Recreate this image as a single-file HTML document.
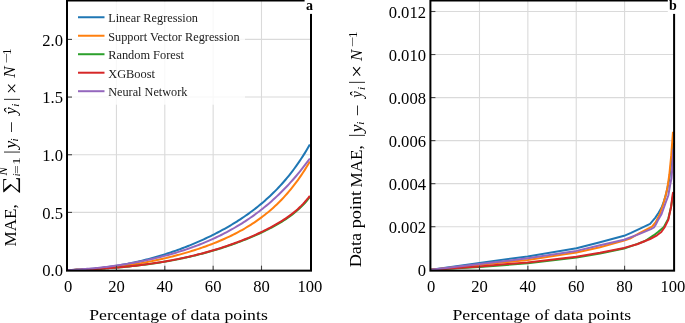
<!DOCTYPE html>
<html><head><meta charset="utf-8"><style>
html,body{margin:0;padding:0;background:#fff;}
body{width:685px;height:323px;overflow:hidden;}
svg{display:block;will-change:transform;}
text{font-family:"Liberation Serif",serif;fill:#000;}
.t{font-size:17px;}
.lg{font-size:13.2px;fill:#1a1a1a;}
.xl{font-size:15.6px;}
.pl{font-size:14px;font-weight:bold;}
</style></head><body>
<svg width="685" height="323" viewBox="0 0 685 323">
<rect width="685" height="323" fill="#fff"/>
<line x1="116.45" y1="0.5" x2="116.45" y2="270.65" stroke="#dadada" stroke-width="1.1"/>
<line x1="164.80" y1="0.5" x2="164.80" y2="270.65" stroke="#dadada" stroke-width="1.1"/>
<line x1="213.15" y1="0.5" x2="213.15" y2="270.65" stroke="#dadada" stroke-width="1.1"/>
<line x1="261.50" y1="0.5" x2="261.50" y2="270.65" stroke="#dadada" stroke-width="1.1"/>
<line x1="67.0" y1="212.41" x2="311.0" y2="212.41" stroke="#dadada" stroke-width="1.1"/>
<line x1="67.0" y1="154.74" x2="311.0" y2="154.74" stroke="#dadada" stroke-width="1.1"/>
<line x1="67.0" y1="97.07" x2="311.0" y2="97.07" stroke="#dadada" stroke-width="1.1"/>
<line x1="67.0" y1="39.41" x2="311.0" y2="39.41" stroke="#dadada" stroke-width="1.1"/>
<line x1="479.49" y1="0.5" x2="479.49" y2="270.65" stroke="#dadada" stroke-width="1.1"/>
<line x1="527.86" y1="0.5" x2="527.86" y2="270.65" stroke="#dadada" stroke-width="1.1"/>
<line x1="576.22" y1="0.5" x2="576.22" y2="270.65" stroke="#dadada" stroke-width="1.1"/>
<line x1="624.59" y1="0.5" x2="624.59" y2="270.65" stroke="#dadada" stroke-width="1.1"/>
<line x1="430.4" y1="226.70" x2="674.1" y2="226.70" stroke="#dadada" stroke-width="1.1"/>
<line x1="430.4" y1="183.66" x2="674.1" y2="183.66" stroke="#dadada" stroke-width="1.1"/>
<line x1="430.4" y1="140.62" x2="674.1" y2="140.62" stroke="#dadada" stroke-width="1.1"/>
<line x1="430.4" y1="97.58" x2="674.1" y2="97.58" stroke="#dadada" stroke-width="1.1"/>
<line x1="430.4" y1="54.54" x2="674.1" y2="54.54" stroke="#dadada" stroke-width="1.1"/>
<line x1="430.4" y1="11.50" x2="674.1" y2="11.50" stroke="#dadada" stroke-width="1.1"/>
<clipPath id="ca"><rect x="67" y="0" width="243.9" height="271"/></clipPath>
<g clip-path="url(#ca)">
<polyline points="68.10,270.07 69.84,270.04 71.58,270.00 73.32,269.95 75.06,269.89 76.80,269.82 78.54,269.74 80.27,269.66 82.01,269.56 83.75,269.46 85.49,269.35 87.23,269.23 88.97,269.09 90.71,268.95 92.45,268.80 94.19,268.65 95.93,268.48 97.67,268.30 99.41,268.12 101.14,267.92 102.88,267.72 104.62,267.50 106.36,267.28 108.10,267.05 109.84,266.81 111.58,266.56 113.32,266.30 115.06,266.03 116.80,265.75 118.54,265.46 120.28,265.16 122.02,264.86 123.75,264.54 125.49,264.22 127.23,263.88 128.97,263.54 130.71,263.18 132.45,262.82 134.19,262.45 135.93,262.07 137.67,261.67 139.41,261.27 141.15,260.86 142.89,260.44 144.63,260.01 146.36,259.57 148.10,259.12 149.84,258.66 151.58,258.19 153.32,257.72 155.06,257.23 156.80,256.73 158.54,256.22 160.28,255.70 162.02,255.17 163.76,254.63 165.50,254.09 167.23,253.53 168.97,252.96 170.71,252.38 172.45,251.79 174.19,251.19 175.93,250.58 177.67,249.96 179.41,249.33 181.15,248.69 182.89,248.04 184.63,247.37 186.37,246.70 188.11,246.01 189.84,245.32 191.58,244.61 193.32,243.89 195.06,243.16 196.80,242.41 198.54,241.66 200.28,240.89 202.02,240.11 203.76,239.32 205.50,238.52 207.24,237.70 208.98,236.87 210.72,236.03 212.45,235.17 214.19,234.30 215.93,233.41 217.67,232.51 219.41,231.60 221.15,230.67 222.89,229.72 224.63,228.76 226.37,227.78 228.11,226.78 229.85,225.77 231.59,224.74 233.32,223.69 235.06,222.62 236.80,221.54 238.54,220.43 240.28,219.30 242.02,218.15 243.76,216.98 245.50,215.79 247.24,214.57 248.98,213.33 250.72,212.06 252.46,210.77 254.20,209.45 255.93,208.10 257.67,206.73 259.41,205.32 261.15,203.88 262.89,202.41 264.63,200.91 266.37,199.37 268.11,197.80 269.85,196.19 271.59,194.54 273.33,192.84 275.07,191.11 276.81,189.34 278.54,187.51 280.28,185.65 282.02,183.73 283.76,181.76 285.50,179.74 287.24,177.66 288.98,175.53 290.72,173.34 292.46,171.08 294.20,168.77 295.94,166.38 297.68,163.93 299.41,161.40 301.15,158.80 302.89,156.12 304.63,153.36 306.37,150.51 308.11,147.58 309.85,144.56" fill="none" stroke="#1f77b4" stroke-width="2" stroke-linejoin="round"/>
<polyline points="68.10,270.07 69.84,270.04 71.58,270.01 73.32,269.96 75.06,269.91 76.80,269.86 78.54,269.80 80.27,269.73 82.01,269.65 83.75,269.57 85.49,269.48 87.23,269.39 88.97,269.29 90.71,269.18 92.45,269.06 94.19,268.94 95.93,268.81 97.67,268.68 99.41,268.54 101.14,268.39 102.88,268.23 104.62,268.07 106.36,267.90 108.10,267.73 109.84,267.55 111.58,267.36 113.32,267.16 115.06,266.96 116.80,266.75 118.54,266.54 120.28,266.32 122.02,266.09 123.75,265.86 125.49,265.61 127.23,265.36 128.97,265.11 130.71,264.85 132.45,264.58 134.19,264.30 135.93,264.02 137.67,263.73 139.41,263.44 141.15,263.13 142.89,262.82 144.63,262.51 146.36,262.18 148.10,261.85 149.84,261.51 151.58,261.17 153.32,260.81 155.06,260.45 156.80,260.09 158.54,259.71 160.28,259.33 162.02,258.94 163.76,258.54 165.50,258.14 167.23,257.73 168.97,257.31 170.71,256.88 172.45,256.44 174.19,256.00 175.93,255.55 177.67,255.09 179.41,254.62 181.15,254.14 182.89,253.65 184.63,253.16 186.37,252.65 188.11,252.14 189.84,251.61 191.58,251.08 193.32,250.54 195.06,249.98 196.80,249.42 198.54,248.84 200.28,248.26 202.02,247.66 203.76,247.06 205.50,246.44 207.24,245.81 208.98,245.16 210.72,244.51 212.45,243.84 214.19,243.15 215.93,242.46 217.67,241.75 219.41,241.02 221.15,240.28 222.89,239.52 224.63,238.75 226.37,237.96 228.11,237.16 229.85,236.33 231.59,235.49 233.32,234.63 235.06,233.75 236.80,232.85 238.54,231.93 240.28,230.98 242.02,230.02 243.76,229.03 245.50,228.01 247.24,226.97 248.98,225.91 250.72,224.81 252.46,223.69 254.20,222.55 255.93,221.37 257.67,220.16 259.41,218.91 261.15,217.64 262.89,216.32 264.63,214.98 266.37,213.59 268.11,212.17 269.85,210.70 271.59,209.20 273.33,207.65 275.07,206.05 276.81,204.41 278.54,202.72 280.28,200.98 282.02,199.18 283.76,197.34 285.50,195.43 287.24,193.47 288.98,191.45 290.72,189.36 292.46,187.21 294.20,184.99 295.94,182.70 297.68,180.34 299.41,177.90 301.15,175.38 302.89,172.79 304.63,170.11 306.37,167.34 308.11,164.48 309.85,161.53" fill="none" stroke="#ff7f0e" stroke-width="2" stroke-linejoin="round"/>
<polyline points="68.10,270.07 69.84,270.02 71.58,269.98 73.32,269.92 75.06,269.87 76.80,269.81 78.54,269.75 80.27,269.69 82.01,269.63 83.75,269.56 85.49,269.49 87.23,269.41 88.97,269.33 90.71,269.25 92.45,269.17 94.19,269.08 95.93,268.99 97.67,268.89 99.41,268.79 101.14,268.69 102.88,268.58 104.62,268.47 106.36,268.36 108.10,268.24 109.84,268.11 111.58,267.99 113.32,267.85 115.06,267.72 116.80,267.58 118.54,267.43 120.28,267.28 122.02,267.13 123.75,266.97 125.49,266.81 127.23,266.64 128.97,266.46 130.71,266.28 132.45,266.10 134.19,265.91 135.93,265.72 137.67,265.52 139.41,265.31 141.15,265.10 142.89,264.88 144.63,264.66 146.36,264.43 148.10,264.20 149.84,263.96 151.58,263.72 153.32,263.47 155.06,263.21 156.80,262.94 158.54,262.67 160.28,262.40 162.02,262.12 163.76,261.83 165.50,261.53 167.23,261.23 168.97,260.92 170.71,260.61 172.45,260.28 174.19,259.95 175.93,259.62 177.67,259.27 179.41,258.92 181.15,258.57 182.89,258.20 184.63,257.83 186.37,257.45 188.11,257.06 189.84,256.67 191.58,256.26 193.32,255.85 195.06,255.44 196.80,255.01 198.54,254.58 200.28,254.13 202.02,253.68 203.76,253.22 205.50,252.76 207.24,252.28 208.98,251.80 210.72,251.31 212.45,250.80 214.19,250.30 215.93,249.78 217.67,249.25 219.41,248.71 221.15,248.17 222.89,247.61 224.63,247.05 226.37,246.47 228.11,245.89 229.85,245.30 231.59,244.69 233.32,244.08 235.06,243.46 236.80,242.82 238.54,242.18 240.28,241.52 242.02,240.86 243.76,240.18 245.50,239.49 247.24,238.79 248.98,238.08 250.72,237.35 252.46,236.62 254.20,235.87 255.93,235.10 257.67,234.32 259.41,233.53 261.15,232.73 262.89,231.90 264.63,231.07 266.37,230.21 268.11,229.34 269.85,228.45 271.59,227.53 273.33,226.60 275.07,225.65 276.81,224.67 278.54,223.66 280.28,222.63 282.02,221.56 283.76,220.46 285.50,219.33 287.24,218.16 288.98,216.95 290.72,215.68 292.46,214.37 294.20,213.00 295.94,211.57 297.68,210.07 299.41,208.50 301.15,206.84 302.89,205.08 304.63,203.22 306.37,201.25 308.11,199.14 309.85,196.89" fill="none" stroke="#2ca02c" stroke-width="2" stroke-linejoin="round"/>
<polyline points="68.10,270.07 69.84,270.02 71.58,269.97 73.32,269.92 75.06,269.87 76.80,269.81 78.54,269.75 80.27,269.69 82.01,269.62 83.75,269.55 85.49,269.48 87.23,269.40 88.97,269.32 90.71,269.24 92.45,269.15 94.19,269.06 95.93,268.97 97.67,268.87 99.41,268.77 101.14,268.67 102.88,268.56 104.62,268.45 106.36,268.33 108.10,268.21 109.84,268.08 111.58,267.95 113.32,267.82 115.06,267.68 116.80,267.54 118.54,267.39 120.28,267.24 122.02,267.08 123.75,266.92 125.49,266.76 127.23,266.58 128.97,266.41 130.71,266.23 132.45,266.04 134.19,265.85 135.93,265.65 137.67,265.45 139.41,265.24 141.15,265.02 142.89,264.81 144.63,264.58 146.36,264.35 148.10,264.11 149.84,263.87 151.58,263.62 153.32,263.36 155.06,263.10 156.80,262.84 158.54,262.56 160.28,262.28 162.02,261.99 163.76,261.70 165.50,261.40 167.23,261.09 168.97,260.78 170.71,260.46 172.45,260.13 174.19,259.80 175.93,259.46 177.67,259.11 179.41,258.75 181.15,258.39 182.89,258.02 184.63,257.64 186.37,257.26 188.11,256.86 189.84,256.46 191.58,256.05 193.32,255.64 195.06,255.21 196.80,254.78 198.54,254.34 200.28,253.89 202.02,253.43 203.76,252.97 205.50,252.49 207.24,252.01 208.98,251.52 210.72,251.02 212.45,250.51 214.19,249.99 215.93,249.47 217.67,248.93 219.41,248.39 221.15,247.83 222.89,247.27 224.63,246.70 226.37,246.11 228.11,245.52 229.85,244.92 231.59,244.31 233.32,243.68 235.06,243.05 236.80,242.41 238.54,241.75 240.28,241.09 242.02,240.41 243.76,239.72 245.50,239.02 247.24,238.31 248.98,237.59 250.72,236.85 252.46,236.11 254.20,235.34 255.93,234.57 257.67,233.78 259.41,232.98 261.15,232.16 262.89,231.32 264.63,230.47 266.37,229.60 268.11,228.72 269.85,227.81 271.59,226.89 273.33,225.94 275.07,224.97 276.81,223.97 278.54,222.95 280.28,221.90 282.02,220.82 283.76,219.71 285.50,218.56 287.24,217.37 288.98,216.14 290.72,214.86 292.46,213.52 294.20,212.14 295.94,210.68 297.68,209.16 299.41,207.56 301.15,205.88 302.89,204.09 304.63,202.21 306.37,200.20 308.11,198.06 309.85,195.78" fill="none" stroke="#d62728" stroke-width="2" stroke-linejoin="round"/>
<polyline points="68.10,270.07 69.84,269.99 71.58,269.90 73.32,269.81 75.06,269.71 76.80,269.60 78.54,269.49 80.27,269.37 82.01,269.25 83.75,269.12 85.49,268.98 87.23,268.84 88.97,268.70 90.71,268.54 92.45,268.38 94.19,268.22 95.93,268.05 97.67,267.87 99.41,267.69 101.14,267.50 102.88,267.30 104.62,267.10 106.36,266.89 108.10,266.68 109.84,266.46 111.58,266.23 113.32,265.99 115.06,265.75 116.80,265.51 118.54,265.25 120.28,264.99 122.02,264.73 123.75,264.45 125.49,264.17 127.23,263.88 128.97,263.59 130.71,263.29 132.45,262.98 134.19,262.67 135.93,262.34 137.67,262.01 139.41,261.67 141.15,261.33 142.89,260.98 144.63,260.62 146.36,260.25 148.10,259.87 149.84,259.49 151.58,259.10 153.32,258.70 155.06,258.29 156.80,257.87 158.54,257.44 160.28,257.01 162.02,256.57 163.76,256.11 165.50,255.65 167.23,255.18 168.97,254.70 170.71,254.21 172.45,253.71 174.19,253.20 175.93,252.68 177.67,252.16 179.41,251.62 181.15,251.07 182.89,250.50 184.63,249.93 186.37,249.35 188.11,248.75 189.84,248.15 191.58,247.53 193.32,246.90 195.06,246.26 196.80,245.60 198.54,244.94 200.28,244.26 202.02,243.56 203.76,242.86 205.50,242.14 207.24,241.40 208.98,240.65 210.72,239.89 212.45,239.11 214.19,238.32 215.93,237.51 217.67,236.69 219.41,235.85 221.15,234.99 222.89,234.11 224.63,233.22 226.37,232.31 228.11,231.39 229.85,230.44 231.59,229.48 233.32,228.50 235.06,227.50 236.80,226.47 238.54,225.43 240.28,224.37 242.02,223.29 243.76,222.18 245.50,221.05 247.24,219.90 248.98,218.73 250.72,217.53 252.46,216.31 254.20,215.07 255.93,213.80 257.67,212.50 259.41,211.18 261.15,209.83 262.89,208.46 264.63,207.05 266.37,205.62 268.11,204.16 269.85,202.67 271.59,201.14 273.33,199.59 275.07,198.01 276.81,196.39 278.54,194.74 280.28,193.05 282.02,191.33 283.76,189.58 285.50,187.79 287.24,185.96 288.98,184.10 290.72,182.19 292.46,180.25 294.20,178.27 295.94,176.25 297.68,174.18 299.41,172.07 301.15,169.92 302.89,167.72 304.63,165.48 306.37,163.20 308.11,160.86 309.85,158.48" fill="none" stroke="#9467bd" stroke-width="2" stroke-linejoin="round"/>
</g>
<clipPath id="cb"><rect x="430" y="0" width="244" height="271"/></clipPath>
<g clip-path="url(#cb)">
<polyline points="431.13,269.74 479.50,262.90 527.70,256.40 576.50,248.30 600.00,242.20 624.10,235.80 631.00,232.80 639.00,229.10 650.10,223.80 655.40,217.60 658.60,212.70 661.60,207.50 664.00,201.00 666.10,193.90 669.40,178.70 671.20,163.00 672.40,150.00 673.10,143.00" fill="none" stroke="#1f77b4" stroke-width="2" stroke-linejoin="round"/>
<polyline points="431.13,269.74 479.50,264.80 527.70,260.00 576.50,252.40 600.00,247.20 624.10,240.60 630.00,238.60 639.00,233.30 652.00,226.60 655.70,222.20 659.50,214.80 663.00,205.00 665.50,196.00 667.40,188.00 669.30,175.00 671.20,155.90 673.00,131.70" fill="none" stroke="#ff7f0e" stroke-width="2" stroke-linejoin="round"/>
<polyline points="431.13,269.74 479.50,267.10 527.70,263.20 576.50,257.50 600.00,253.50 624.10,248.60 637.50,243.90 645.00,241.00 653.90,235.20 658.00,232.00 663.90,227.00 668.30,218.60 671.00,207.00 672.40,199.00 673.00,196.00" fill="none" stroke="#2ca02c" stroke-width="2" stroke-linejoin="round"/>
<polyline points="431.13,269.74 479.50,266.40 527.70,262.40 576.50,256.70 600.00,252.70 624.10,247.90 637.10,244.20 650.10,239.00 657.00,235.30 661.30,232.00 664.50,227.50 668.30,219.90 671.10,206.90 672.60,195.00 673.20,192.00" fill="none" stroke="#d62728" stroke-width="2" stroke-linejoin="round"/>
<polyline points="431.13,269.74 479.50,264.10 527.70,258.30 576.50,250.90 600.00,245.20 624.10,239.80 639.00,234.10 650.90,229.20 653.90,227.50 655.70,224.70 657.80,220.50 661.30,214.60 665.00,204.50 668.30,195.50 670.20,184.50 671.50,178.20 672.10,170.80 673.40,149.40" fill="none" stroke="#9467bd" stroke-width="2" stroke-linejoin="round"/>
</g>
<rect x="68" y="1.5" width="177" height="103.2" fill="#fff" fill-opacity="0.8"/>
<line x1="78.0" y1="17.25" x2="104.5" y2="17.25" stroke="#1f77b4" stroke-width="2"/>
<text x="108.2" y="22.35" class="lg" textLength="89.8" lengthAdjust="spacingAndGlyphs">Linear Regression</text>
<line x1="78.0" y1="35.74" x2="104.5" y2="35.74" stroke="#ff7f0e" stroke-width="2"/>
<text x="108.2" y="40.84" class="lg" textLength="131.4" lengthAdjust="spacingAndGlyphs">Support Vector Regression</text>
<line x1="78.0" y1="54.23" x2="104.5" y2="54.23" stroke="#2ca02c" stroke-width="2"/>
<text x="108.2" y="59.33" class="lg" textLength="75.8" lengthAdjust="spacingAndGlyphs">Random Forest</text>
<line x1="78.0" y1="72.72" x2="104.5" y2="72.72" stroke="#d62728" stroke-width="2"/>
<text x="108.2" y="77.82" class="lg" textLength="46.8" lengthAdjust="spacingAndGlyphs">XGBoost</text>
<line x1="78.0" y1="91.21" x2="104.5" y2="91.21" stroke="#9467bd" stroke-width="2"/>
<text x="108.2" y="96.31" class="lg" textLength="79.2" lengthAdjust="spacingAndGlyphs">Neural Network</text>
<line x1="116.45" y1="270.65" x2="116.45" y2="265.65" stroke="#444" stroke-width="1.1"/>
<line x1="164.80" y1="270.65" x2="164.80" y2="265.65" stroke="#444" stroke-width="1.1"/>
<line x1="213.15" y1="270.65" x2="213.15" y2="265.65" stroke="#444" stroke-width="1.1"/>
<line x1="261.50" y1="270.65" x2="261.50" y2="265.65" stroke="#444" stroke-width="1.1"/>
<line x1="67.0" y1="212.41" x2="72.0" y2="212.41" stroke="#444" stroke-width="1.1"/>
<line x1="67.0" y1="154.74" x2="72.0" y2="154.74" stroke="#444" stroke-width="1.1"/>
<line x1="67.0" y1="97.07" x2="72.0" y2="97.07" stroke="#444" stroke-width="1.1"/>
<line x1="67.0" y1="39.41" x2="72.0" y2="39.41" stroke="#444" stroke-width="1.1"/>
<line x1="479.49" y1="270.65" x2="479.49" y2="265.65" stroke="#444" stroke-width="1.1"/>
<line x1="527.86" y1="270.65" x2="527.86" y2="265.65" stroke="#444" stroke-width="1.1"/>
<line x1="576.22" y1="270.65" x2="576.22" y2="265.65" stroke="#444" stroke-width="1.1"/>
<line x1="624.59" y1="270.65" x2="624.59" y2="265.65" stroke="#444" stroke-width="1.1"/>
<line x1="430.4" y1="226.70" x2="435.4" y2="226.70" stroke="#444" stroke-width="1.1"/>
<line x1="430.4" y1="183.66" x2="435.4" y2="183.66" stroke="#444" stroke-width="1.1"/>
<line x1="430.4" y1="140.62" x2="435.4" y2="140.62" stroke="#444" stroke-width="1.1"/>
<line x1="430.4" y1="97.58" x2="435.4" y2="97.58" stroke="#444" stroke-width="1.1"/>
<line x1="430.4" y1="54.54" x2="435.4" y2="54.54" stroke="#444" stroke-width="1.1"/>
<line x1="430.4" y1="11.50" x2="435.4" y2="11.50" stroke="#444" stroke-width="1.1"/>
<rect x="67.0" y="0.5" width="244.00" height="270.15" fill="none" stroke="#000" stroke-width="2"/>
<rect x="430.4" y="0.5" width="243.70" height="270.15" fill="none" stroke="#000" stroke-width="2"/>
<rect x="304.6" y="0" width="10" height="13.9" fill="#fff"/>
<text x="309.4" y="9.7" text-anchor="middle" class="pl">a</text>
<rect x="667.8" y="0" width="12" height="13.9" fill="#fff"/>
<text x="672.9" y="9.7" text-anchor="middle" class="pl">b</text>
<text x="68.10" y="291.6" text-anchor="middle" class="t" textLength="8.30" lengthAdjust="spacingAndGlyphs">0</text>
<text x="116.45" y="291.6" text-anchor="middle" class="t" textLength="16.60" lengthAdjust="spacingAndGlyphs">20</text>
<text x="164.80" y="291.6" text-anchor="middle" class="t" textLength="16.60" lengthAdjust="spacingAndGlyphs">40</text>
<text x="213.15" y="291.6" text-anchor="middle" class="t" textLength="16.60" lengthAdjust="spacingAndGlyphs">60</text>
<text x="261.50" y="291.6" text-anchor="middle" class="t" textLength="16.60" lengthAdjust="spacingAndGlyphs">80</text>
<text x="309.85" y="291.6" text-anchor="middle" class="t" textLength="24.90" lengthAdjust="spacingAndGlyphs">100</text>
<text x="63.0" y="276.32" text-anchor="end" class="t" textLength="20.75" lengthAdjust="spacingAndGlyphs">0.0</text>
<text x="63.0" y="218.66" text-anchor="end" class="t" textLength="20.75" lengthAdjust="spacingAndGlyphs">0.5</text>
<text x="63.0" y="160.99" text-anchor="end" class="t" textLength="20.75" lengthAdjust="spacingAndGlyphs">1.0</text>
<text x="63.0" y="103.32" text-anchor="end" class="t" textLength="20.75" lengthAdjust="spacingAndGlyphs">1.5</text>
<text x="63.0" y="45.66" text-anchor="end" class="t" textLength="20.75" lengthAdjust="spacingAndGlyphs">2.0</text>
<text x="431.13" y="291.6" text-anchor="middle" class="t" textLength="8.30" lengthAdjust="spacingAndGlyphs">0</text>
<text x="479.49" y="291.6" text-anchor="middle" class="t" textLength="16.60" lengthAdjust="spacingAndGlyphs">20</text>
<text x="527.86" y="291.6" text-anchor="middle" class="t" textLength="16.60" lengthAdjust="spacingAndGlyphs">40</text>
<text x="576.22" y="291.6" text-anchor="middle" class="t" textLength="16.60" lengthAdjust="spacingAndGlyphs">60</text>
<text x="624.59" y="291.6" text-anchor="middle" class="t" textLength="16.60" lengthAdjust="spacingAndGlyphs">80</text>
<text x="672.95" y="291.6" text-anchor="middle" class="t" textLength="24.90" lengthAdjust="spacingAndGlyphs">100</text>
<text x="426.0" y="275.99" text-anchor="end" class="t" textLength="8.30" lengthAdjust="spacingAndGlyphs">0</text>
<text x="426.0" y="232.95" text-anchor="end" class="t" textLength="37.35" lengthAdjust="spacingAndGlyphs">0.002</text>
<text x="426.0" y="189.91" text-anchor="end" class="t" textLength="37.35" lengthAdjust="spacingAndGlyphs">0.004</text>
<text x="426.0" y="146.87" text-anchor="end" class="t" textLength="37.35" lengthAdjust="spacingAndGlyphs">0.006</text>
<text x="426.0" y="103.83" text-anchor="end" class="t" textLength="37.35" lengthAdjust="spacingAndGlyphs">0.008</text>
<text x="426.0" y="60.79" text-anchor="end" class="t" textLength="37.35" lengthAdjust="spacingAndGlyphs">0.010</text>
<text x="426.0" y="17.75" text-anchor="end" class="t" textLength="37.35" lengthAdjust="spacingAndGlyphs">0.012</text>
<text x="89.2" y="319.7" class="xl" textLength="178.6" lengthAdjust="spacingAndGlyphs">Percentage of data points</text>
<text x="452.4" y="319.7" class="xl" textLength="178.9" lengthAdjust="spacingAndGlyphs">Percentage of data points</text>
<text transform="rotate(-90)" x="-246.50" y="16.00" font-size="16.40" textLength="42.22" lengthAdjust="spacingAndGlyphs">MAE,</text>
<text transform="rotate(-90)" x="-193.80" y="15.70" font-size="19.21" textLength="17.34" lengthAdjust="spacingAndGlyphs">∑</text>
<text transform="rotate(-90)" x="-175.40" y="6.90" font-size="12.50" font-style="italic">N</text>
<text transform="rotate(-90)" x="-176.30" y="20.00" font-size="9.77" font-style="italic">i</text>
<text transform="rotate(-90)" x="-173.90" y="20.00" font-size="11.00" textLength="16.71" lengthAdjust="spacingAndGlyphs">=1</text>
<text transform="rotate(-90)" x="-153.80" y="16.10" font-size="17.00">|</text>
<text transform="rotate(-90)" x="-148.60" y="15.60" font-size="15.89" font-style="italic" textLength="7.77" lengthAdjust="spacingAndGlyphs">y</text>
<text transform="rotate(-90)" x="-141.50" y="17.60" font-size="11.25" font-style="italic">i</text>
<text transform="rotate(-90)" x="-133.20" y="17.00" font-size="16.50" textLength="12.00" lengthAdjust="spacingAndGlyphs">−</text>
<text transform="rotate(-90)" x="-114.60" y="16.20" font-size="15.73" font-style="italic" textLength="7.18" lengthAdjust="spacingAndGlyphs">ŷ</text>
<text transform="rotate(-90)" x="-106.80" y="19.00" font-size="11.00" font-style="italic">i</text>
<text transform="rotate(-90)" x="-100.90" y="16.10" font-size="17.00">|</text>
<text transform="rotate(-90)" x="-94.00" y="17.90" font-size="19.85" textLength="11.20" lengthAdjust="spacingAndGlyphs">×</text>
<text transform="rotate(-90)" x="-77.80" y="15.30" font-size="16.81" font-style="italic" textLength="11.34" lengthAdjust="spacingAndGlyphs">N</text>
<text transform="rotate(-90)" x="-63.70" y="10.00" font-size="11.00" textLength="10.45" lengthAdjust="spacingAndGlyphs">−</text>
<text transform="rotate(-90)" x="-54.90" y="10.70" font-size="13.23">1</text>
<text transform="rotate(-90)" x="-267.30" y="361.00" font-size="17.36" textLength="76.48" lengthAdjust="spacingAndGlyphs">Data point</text>
<text transform="rotate(-90)" x="-187.40" y="362.20" font-size="16.40" textLength="42.22" lengthAdjust="spacingAndGlyphs">MAE,</text>
<text transform="rotate(-90)" x="-137.00" y="361.40" font-size="17.00">|</text>
<text transform="rotate(-90)" x="-132.30" y="361.90" font-size="15.89" font-style="italic" textLength="7.77" lengthAdjust="spacingAndGlyphs">y</text>
<text transform="rotate(-90)" x="-124.70" y="363.90" font-size="11.25" font-style="italic">i</text>
<text transform="rotate(-90)" x="-116.40" y="363.30" font-size="16.50" textLength="11.85" lengthAdjust="spacingAndGlyphs">−</text>
<text transform="rotate(-90)" x="-97.80" y="361.50" font-size="15.73" font-style="italic" textLength="6.54" lengthAdjust="spacingAndGlyphs">ŷ</text>
<text transform="rotate(-90)" x="-90.00" y="365.30" font-size="11.00" font-style="italic">i</text>
<text transform="rotate(-90)" x="-84.10" y="361.40" font-size="17.00">|</text>
<text transform="rotate(-90)" x="-77.70" y="363.20" font-size="19.85" textLength="12.67" lengthAdjust="spacingAndGlyphs">×</text>
<text transform="rotate(-90)" x="-61.00" y="361.60" font-size="16.81" font-style="italic" textLength="11.34" lengthAdjust="spacingAndGlyphs">N</text>
<text transform="rotate(-90)" x="-47.40" y="356.30" font-size="11.00" textLength="10.69" lengthAdjust="spacingAndGlyphs">−</text>
<text transform="rotate(-90)" x="-38.10" y="357.00" font-size="13.23">1</text>
</svg>
</body></html>
